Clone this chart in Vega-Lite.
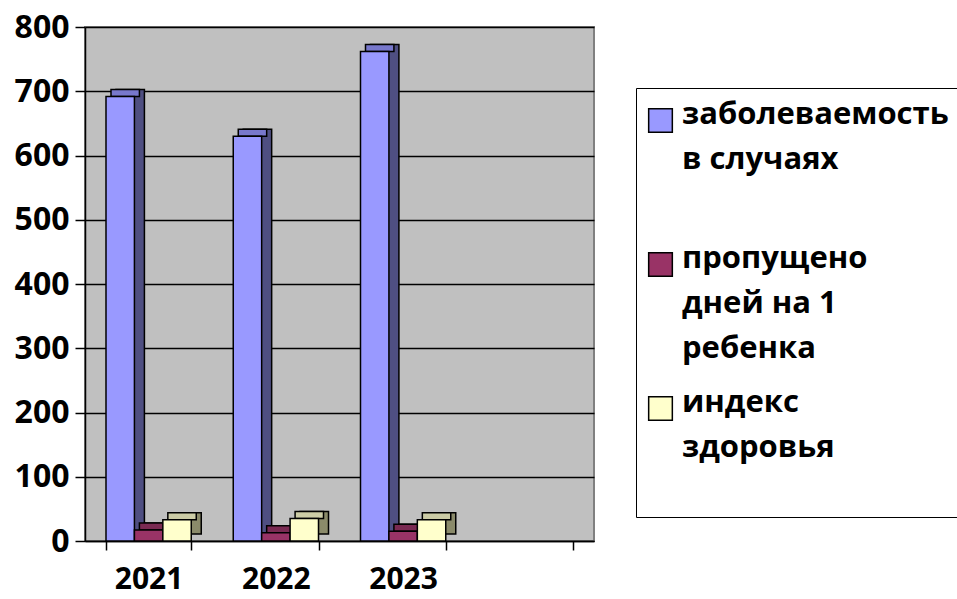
{
  "$schema": "https://vega.github.io/schema/vega-lite/v6.json",
  "width": 509,
  "height": 514,
  "autosize": "none",
  "padding": {"left": 85, "top": 27, "right": 363, "bottom": 58},
  "background": "white",
  "config": {
    "view": {"fill": "#c0c0c0", "stroke": "#808080", "strokeWidth": 2},
    "font": "Open Sans"
  },
  "data": {
    "values": [
      {"year": "2021", "series": "заболеваемость в случаях", "value": 692},
      {"year": "2021", "series": "пропущено дней на 1 ребенка", "value": 17},
      {"year": "2021", "series": "индекс здоровья", "value": 33},
      {"year": "2022", "series": "заболеваемость в случаях", "value": 630},
      {"year": "2022", "series": "пропущено дней на 1 ребенка", "value": 13},
      {"year": "2022", "series": "индекс здоровья", "value": 35},
      {"year": "2023", "series": "заболеваемость в случаях", "value": 762},
      {"year": "2023", "series": "пропущено дней на 1 ребенка", "value": 15},
      {"year": "2023", "series": "индекс здоровья", "value": 33}
    ]
  },
  "encoding": {
    "x": {
      "field": "year",
      "type": "nominal",
      "scale": {"domain": ["2021", "2022", "2023", "2024"], "paddingInner": 0.33, "paddingOuter": 0.165},
      "axis": {
        "title": null,
        "labelAngle": 0,
        "labelExpr": "datum.label == '2024' ? '' : datum.label",
        "labelFont": "Open Sans",
        "labelFontWeight": "bold",
        "labelFontSize": 30,
        "labelColor": "black",
        "labelPadding": 14,
        "tickBand": "extent",
        "tickColor": "black",
        "tickSize": 9,
        "tickWidth": 1.5,
        "domainColor": "black",
        "domainWidth": 1.5,
        "grid": false
      }
    },
    "y": {
      "field": "value",
      "type": "quantitative",
      "scale": {"domain": [0, 800], "nice": false},
      "axis": {
        "title": null,
        "values": [0, 100, 200, 300, 400, 500, 600, 700, 800],
        "labelFont": "Open Sans",
        "labelFontWeight": "bold",
        "labelFontSize": 32,
        "labelColor": "black",
        "labelPadding": 6,
        "tickColor": "black",
        "tickSize": 10,
        "tickWidth": 1.5,
        "domainColor": "black",
        "domainWidth": 1.5,
        "grid": true,
        "gridColor": "black",
        "gridWidth": 1.5,
        "gridOpacity": 1
      }
    }
  },
  "layer": [
    {
      "mark": {"type": "bar", "yOffset": -7, "stroke": "black", "strokeWidth": 1.5},
      "encoding": {
        "xOffset": {
          "field": "series",
          "type": "nominal",
          "scale": {"domain": ["заболеваемость в случаях", "пропущено дней на 1 ребенка", "индекс здоровья"], "range": [10, 95.26], "paddingInner": 0, "paddingOuter": 0}
        },
        "color": {
          "field": "series",
          "type": "nominal",
          "scale": {"domain": ["заболеваемость в случаях", "пропущено дней на 1 ребенка", "индекс здоровья"], "range": ["#4f4f82", "#5a1e3c", "#8a8a6a"]},
          "legend": null
        }
      }
    },
    {
      "mark": {"type": "bar", "yOffset": -7, "y2Offset": 0, "stroke": "black", "strokeWidth": 1.5},
      "encoding": {
        "xOffset": {
          "field": "series",
          "type": "nominal",
          "scale": {"domain": ["заболеваемость в случаях", "пропущено дней на 1 ребенка", "индекс здоровья"], "range": [5, 90.26], "paddingInner": 0, "paddingOuter": 0}
        },
        "y2": {"field": "value"},
        "color": {
          "field": "series",
          "type": "nominal",
          "scale": {"domain": ["заболеваемость в случаях", "пропущено дней на 1 ребенка", "индекс здоровья"], "range": ["#7878cc", "#7a2a52", "#cccca6"]},
          "legend": null
        }
      }
    },
    {
      "mark": {"type": "bar", "stroke": "black", "strokeWidth": 1.5},
      "encoding": {
        "xOffset": {
          "field": "series",
          "type": "nominal",
          "scale": {"domain": ["заболеваемость в случаях", "пропущено дней на 1 ребенка", "индекс здоровья"], "range": [0, 85.26], "paddingInner": 0, "paddingOuter": 0}
        },
        "color": {
          "field": "series",
          "type": "nominal",
          "scale": {"domain": ["заболеваемость в случаях", "пропущено дней на 1 ребенка", "индекс здоровья"], "range": ["#9999ff", "#993366", "#ffffcc"]},
          "legend": {
            "title": " ",
            "titleFontSize": 5,
            "titlePadding": 3,
            "orient": "none",
            "legendX": 551,
            "legendY": 61,
            "padding": 9,
            "strokeColor": "black",
            "fillColor": "white",
            "symbolType": "square",
            "symbolSize": 560,
            "symbolStrokeColor": "black",
            "symbolStrokeWidth": 1.5,
            "symbolOpacity": 1,
            "labelFont": "Open Sans",
            "labelFontWeight": "bold",
            "labelFontSize": 31,
            "labelColor": "black",
            "labelLimit": 400,
            "labelBaseline": "top",
            "labelOffset": 6,
            "rowPadding": 22,
            "labelExpr": "datum.label == 'заболеваемость в случаях' ? ['заболеваемость', 'в случаях', ''] : datum.label == 'пропущено дней на 1 ребенка' ? ['пропущено', 'дней на 1', 'ребенка'] : ['индекс', 'здоровья', '']",
            "encode": {
              "labels": {"update": {"lineHeight": {"value": 45}, "dy": {"value": -21}}}
            }
          }
        }
      }
    }
  ],
  "resolve": {"scale": {"color": "independent", "xOffset": "independent"}}
}
